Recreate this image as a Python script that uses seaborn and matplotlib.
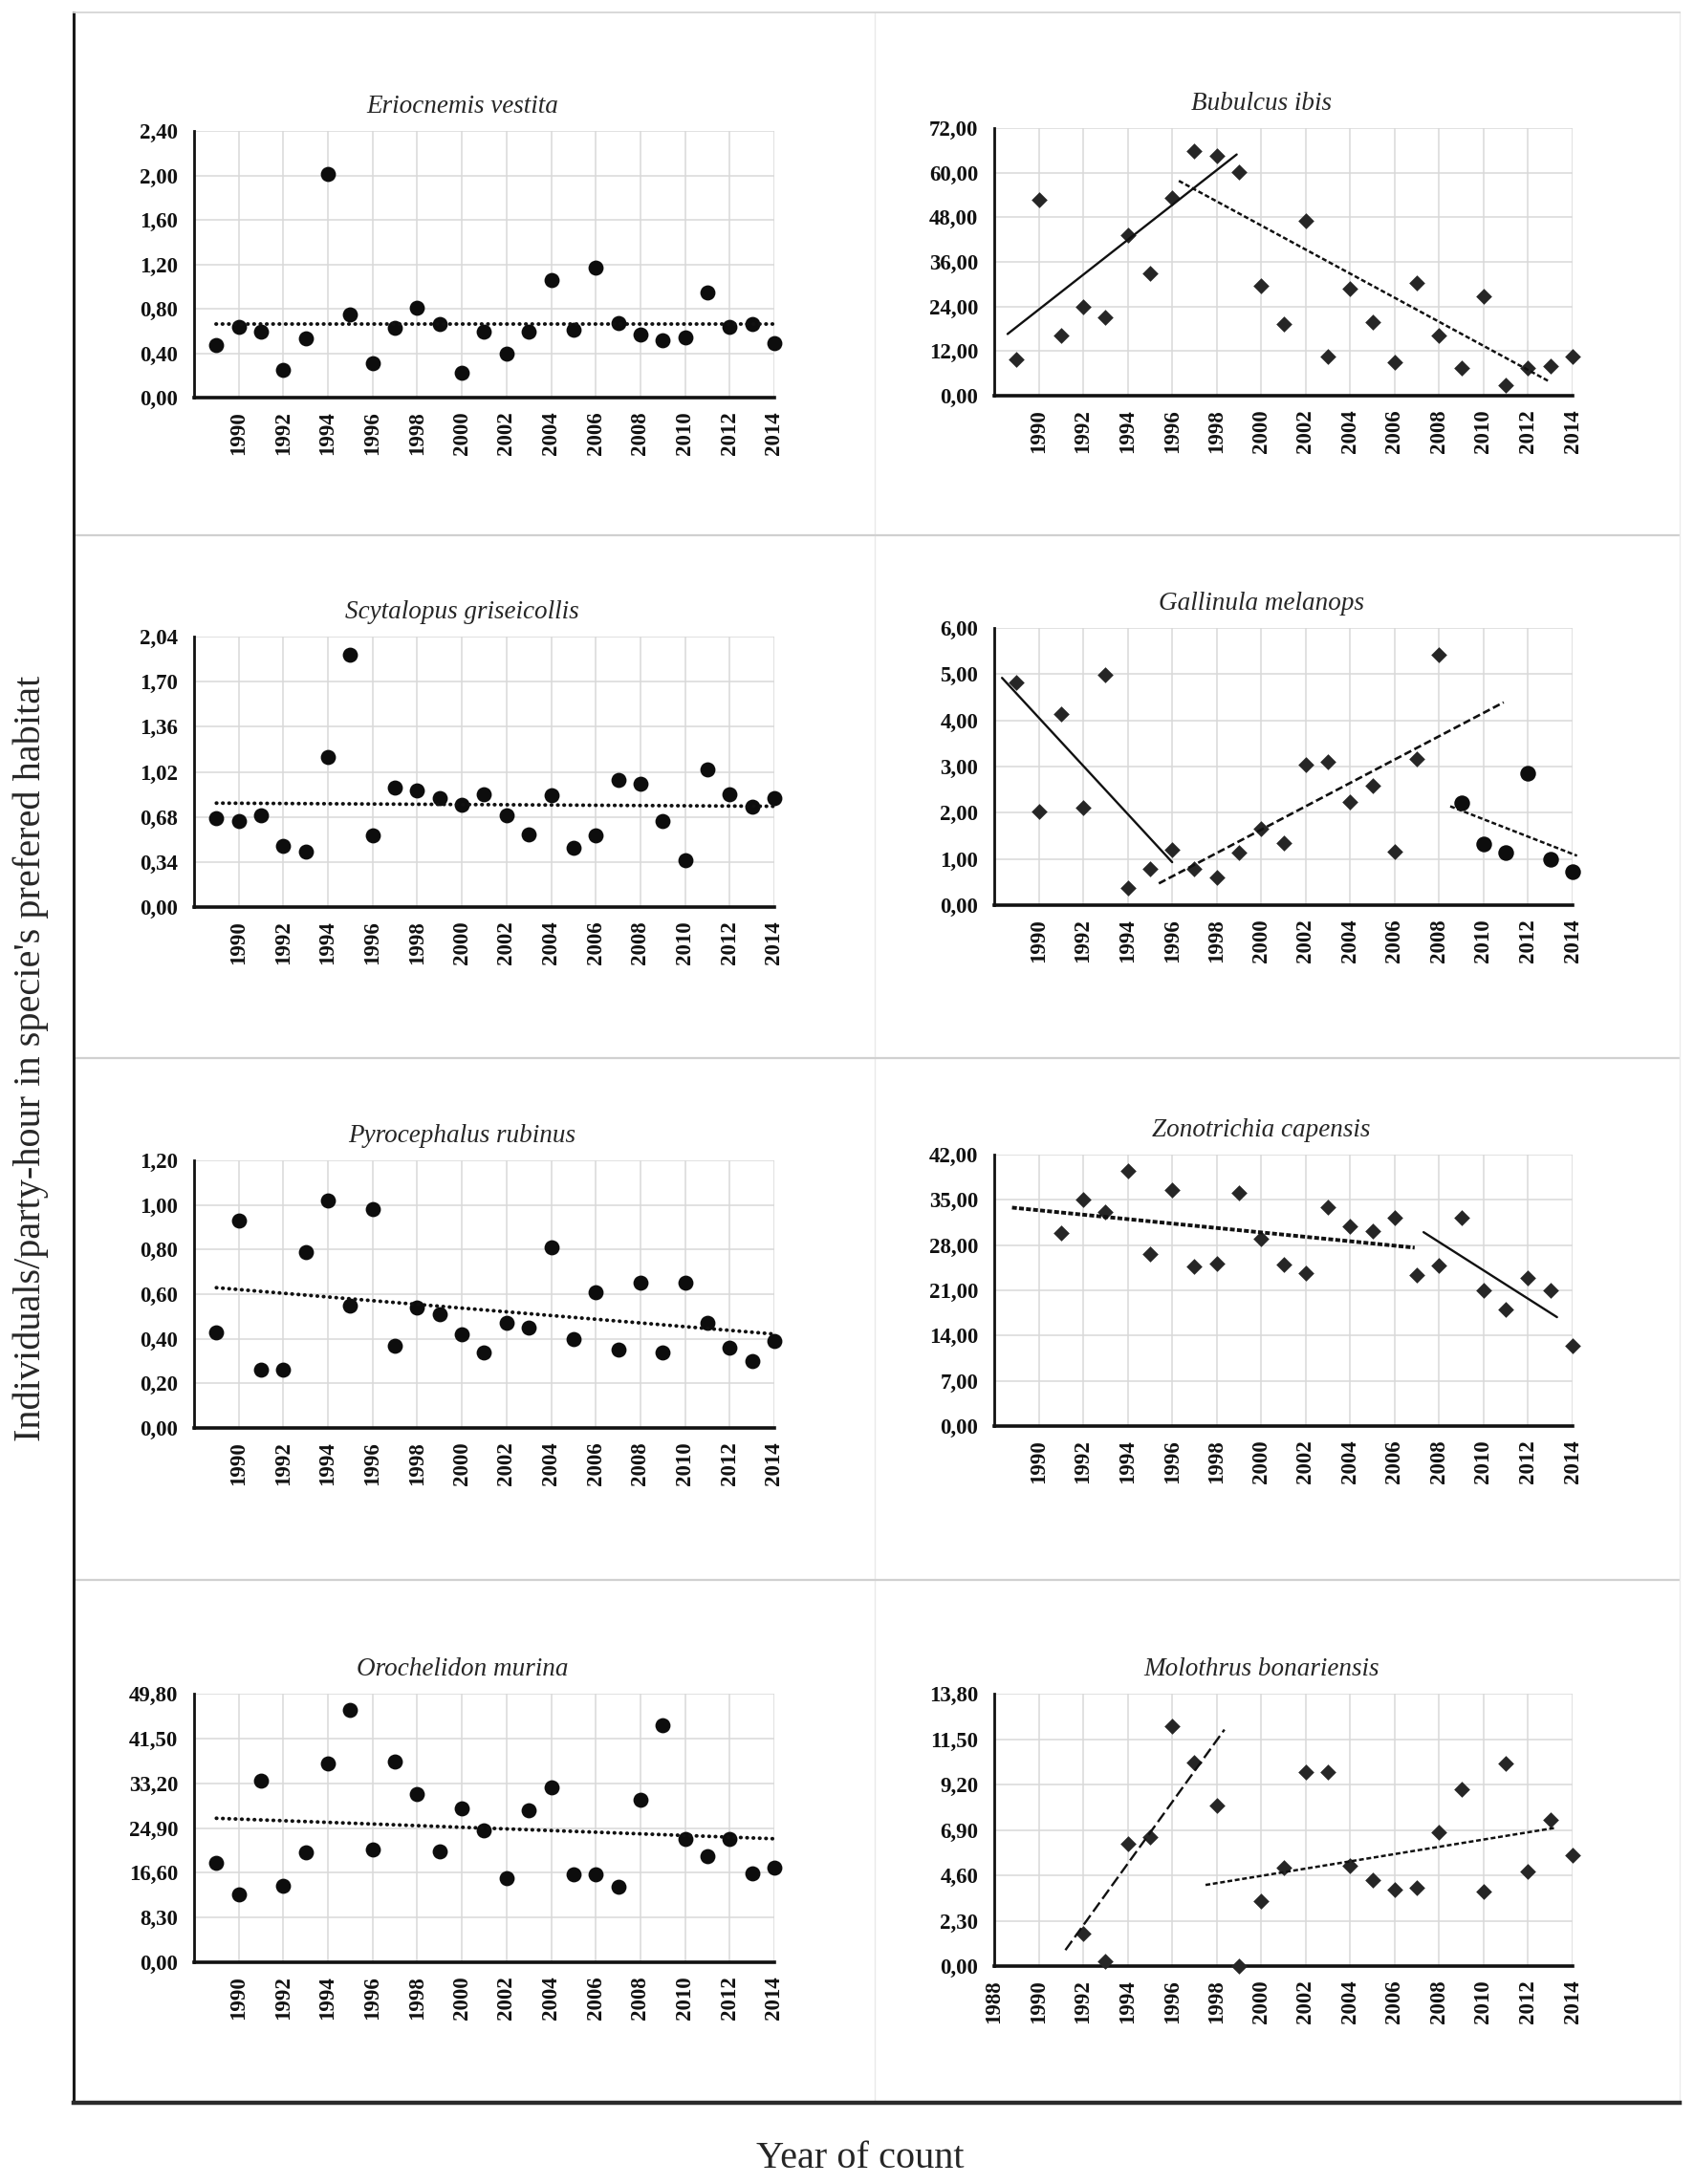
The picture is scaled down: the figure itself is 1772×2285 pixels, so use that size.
import matplotlib
matplotlib.use("Agg")
import matplotlib.pyplot as plt
import pandas as pd
import seaborn as sns
from matplotlib.ticker import FuncFormatter

# ---- data ------------------------------------------------------------------
YEARS_ALL = list(range(1989, 2015))

ERIOCNEMIS_VALUES = [0.47, 0.64, 0.59, 0.25, 0.53, 2.01, 0.75, 0.31, 0.63, 0.81, 0.66, 0.22, 0.59,
                     0.40, 0.59, 1.06, 0.61, 1.17, 0.67, 0.57, 0.52, 0.54, 0.95, 0.64, 0.66, 0.49]
SCYTALOPUS_VALUES = [0.67, 0.65, 0.69, 0.46, 0.42, 1.13, 1.90, 0.54, 0.90, 0.88, 0.82, 0.77, 0.85,
                     0.69, 0.55, 0.84, 0.45, 0.54, 0.96, 0.93, 0.65, 0.35, 1.04, 0.85, 0.76, 0.82]
PYROCEPHALUS_VALUES = [0.43, 0.93, 0.26, 0.26, 0.79, 1.02, 0.55, 0.98, 0.37, 0.54, 0.51, 0.42, 0.34,
                       0.47, 0.45, 0.81, 0.40, 0.61, 0.35, 0.65, 0.34, 0.65, 0.47, 0.36, 0.30, 0.39]
OROCHELIDON_VALUES = [18.5, 12.6, 33.7, 14.1, 20.4, 36.8, 46.8, 21.0, 37.3, 31.2, 20.6, 28.5, 24.4,
                      15.6, 28.1, 32.5, 16.3, 16.3, 14.0, 30.2, 44.0, 22.8, 19.6, 22.9, 16.5, 17.5]
BUBULCUS_VALUES = [9.9, 52.6, 16.2, 24.0, 21.1, 43.3, 33.0, 53.3, 65.8, 64.6, 60.3, 29.6, 19.4,
                   47.1, 10.6, 28.7, 19.7, 9.1, 30.3, 16.2, 7.5, 26.7, 2.8, 7.5, 8.0, 10.5]
GALLINULA_VALUES = [4.83, 2.02, 4.14, 2.11, 4.99, 0.38, 0.78, 1.19, 0.78, 0.61, 1.13, 1.66, 1.35,
                    3.04, 3.11, 2.24, 2.59, 1.16, 3.16, 5.43, 2.21, 1.33, 1.13, 2.85, 1.00, 0.73]
GALLINULA_SHAPE = ["diamond"] * 20 + ["circle"] * 6
ZONOTRICHIA_YEARS = list(range(1991, 2015))
ZONOTRICHIA_VALUES = [29.9, 35.0, 33.1, 39.5, 26.6, 36.6, 24.7, 25.2, 36.1, 29.0, 25.0, 23.6,
                      33.9, 30.9, 30.2, 32.3, 23.4, 24.8, 32.3, 21.0, 18.0, 22.9, 21.0, 12.4]
MOLOTHRUS_YEARS = list(range(1992, 2015))
MOLOTHRUS_VALUES = [1.67, 0.26, 6.18, 6.54, 12.14, 10.29, 8.15, 0.00, 3.28, 4.98, 9.81, 9.81,
                    5.07, 4.36, 3.88, 3.98, 6.76, 8.94, 3.77, 10.26, 4.77, 7.42, 5.60]

# trend segments: (start year, end year, start value, end value)
ERIOCNEMIS_TREND = [(1989, 2014, 0.66, 0.66)]
SCYTALOPUS_TREND = [(1989, 2014, 0.784, 0.76)]
PYROCEPHALUS_TREND = [(1989, 2014, 0.629, 0.421)]
OROCHELIDON_TREND = [(1989, 2014, 26.7, 22.9)]
BUBULCUS_TREND = [(1988.6, 1998.9, 16.6, 64.9), (1996.3, 2012.9, 57.8, 4.0)]
GALLINULA_TREND = [(1988.35, 1996.0, 4.92, 0.93), (1995.4, 2010.9, 0.47, 4.39), (2008.5, 2014.2, 2.14, 1.07)]
ZONOTRICHIA_TREND = [(1988.8, 2006.9, 33.8, 27.6), (2007.3, 2013.3, 30.0, 16.85)]
MOLOTHRUS_TREND = [(1991.2, 1998.35, 0.81, 11.98), (1997.5, 2013.2, 4.11, 7.0)]

ERIOCNEMIS_TICKS = [0, 0.4, 0.8, 1.2, 1.6, 2.0, 2.4]
SCYTALOPUS_TICKS = [0, 0.34, 0.68, 1.02, 1.36, 1.70, 2.04]
PYROCEPHALUS_TICKS = [0, 0.2, 0.4, 0.6, 0.8, 1.0, 1.2]
OROCHELIDON_TICKS = [0, 8.3, 16.6, 24.9, 33.2, 41.5, 49.8]
BUBULCUS_TICKS = [0, 12, 24, 36, 48, 60, 72]
GALLINULA_TICKS = [0, 1, 2, 3, 4, 5, 6]
ZONOTRICHIA_TICKS = [0, 7, 14, 21, 28, 35, 42]
MOLOTHRUS_TICKS = [0, 2.3, 4.6, 6.9, 9.2, 11.5, 13.8]

YEAR_TICKS = list(range(1990, 2015, 2))
YEAR_TICKS_1988 = list(range(1988, 2015, 2))

# ---- styles -----------------------------------------------------------------
W, H = 1772, 2285
GRID = "#d9d9d9"
DOTTED = dict(linestyle=(0, (0.1, 1.6)), lw=2.8, dash_capstyle="round")
SOLID = dict(linestyle="-", lw=1.7)
FINE = dict(linestyle=(0, (2.0, 1.1)), lw=1.8)
MEDIUM = dict(linestyle=(0, (3.0, 1.4)), lw=1.9)
LONG = dict(linestyle=(0, (5, 2)), lw=1.7)
THICK_SQ = dict(linestyle=(0, (1.3, 0.6)), lw=2.8)

sns.set_theme(style="white")
plt.rcParams["font.family"] = ["Liberation Serif", "DejaVu Serif"]
plt.rcParams["font.weight"] = "bold"

fig = plt.figure(figsize=(W / 100, H / 100), dpi=100)

# outer frame with the light separators
FRAME = (77, 13, 1757, 2200)
frame = fig.add_axes([FRAME[0] / W, 1 - FRAME[3] / H, (FRAME[2] - FRAME[0]) / W,
                      (FRAME[3] - FRAME[1]) / H], zorder=-5)
frame.set_xlim(0, 1)
frame.set_ylim(0, 1)
frame.set_xticks([])
frame.set_yticks([])
frame.patch.set_alpha(0)
frame.spines["left"].set(color="#1a1a1a", lw=2.2)
frame.spines["bottom"].set(color="#2b2b2b", lw=3.2)
frame.spines["top"].set(color="#d6d6d6", lw=1.3)
frame.spines["right"].set(color="#ececec", lw=1.0)
frame.axvline(0.4988, color="#eaeaea", lw=1.0)
for yy in (0.25, 0.5, 0.75):
    frame.axhline(yy, color="#d0d0d0", lw=1.6)

fig.text(32 / W, 1 - 1107 / H, "Individuals/party-hour in specie's prefered habitat",
         rotation=90, ha="center", va="center", fontsize=29, fontweight="normal")
fig.text(900 / W, 1 - 2258 / H, "Year of count", ha="center", va="center",
         fontsize=29, fontweight="normal")

comma = FuncFormatter(lambda v, p: f"{v:.2f}".replace(".", ","))


def panel(rect_px, title, years, values, yticks, marker, trends, styles, xticks=YEAR_TICKS, shapes=None):
    x0, x1, top, bottom = rect_px
    ax = fig.add_axes([x0 / W, 1 - bottom / H, (x1 - x0) / W, (bottom - top) / H])
    df = pd.DataFrame({"year": years, "value": values})
    df["shape"] = shapes if shapes is not None else marker
    for shape, sub in df.groupby("shape"):
        if shape == "circle":
            sns.scatterplot(data=sub, x="year", y="value", marker="o", s=140 if shapes else 130,
                            color="#0d0d0d", linewidth=0, ax=ax, zorder=4, clip_on=False)
        else:
            sns.scatterplot(data=sub, x="year", y="value", marker="D", s=72,
                            color="#262626", linewidth=0, ax=ax, zorder=4, clip_on=False)
    for (ya, yb, va, vb), st in zip(trends, styles):
        sns.lineplot(x=[ya, yb], y=[va, vb], color="#111111", ax=ax, zorder=5,
                     clip_on=False, **st)
    ax.set_xlim(1988, 2014)
    ax.set_ylim(yticks[0], yticks[-1])
    ax.set_yticks(yticks)
    ax.set_xticks(xticks)
    ax.yaxis.set_major_formatter(comma)
    ax.grid(True, color=GRID, lw=1.1)
    ax.set_axisbelow(True)
    ax.set_xlabel("")
    ax.set_ylabel("")
    ax.spines["top"].set_visible(False)
    ax.spines["right"].set_visible(False)
    ax.spines["left"].set(color="#111111", lw=2.0)
    ax.spines["bottom"].set(color="#111111", lw=2.6)
    ax.tick_params(axis="x", labelrotation=90, length=0, pad=10, labelsize=16.5, colors="#111111")
    ax.tick_params(axis="y", length=0, pad=12, labelsize=16.5, colors="#111111")
    ax.set_title(title, x=0.462, pad=14, fontsize=19.5, fontstyle="italic", fontweight="normal")
    return ax


L, R = (203, 810), (1040, 1645)

panel((*L, 137, 416), "Eriocnemis vestita", YEARS_ALL, ERIOCNEMIS_VALUES, ERIOCNEMIS_TICKS,
      "circle", ERIOCNEMIS_TREND, [DOTTED])
panel((*R, 134, 414), "Bubulcus ibis", YEARS_ALL, BUBULCUS_VALUES, BUBULCUS_TICKS,
      "diamond", BUBULCUS_TREND, [SOLID, FINE])
panel((*L, 666, 949), "Scytalopus griseicollis", YEARS_ALL, SCYTALOPUS_VALUES, SCYTALOPUS_TICKS,
      "circle", SCYTALOPUS_TREND, [DOTTED])
panel((*R, 657, 947), "Gallinula melanops", YEARS_ALL, GALLINULA_VALUES, GALLINULA_TICKS,
      "diamond", GALLINULA_TREND, [SOLID, MEDIUM, FINE], shapes=GALLINULA_SHAPE)
panel((*L, 1214, 1494), "Pyrocephalus rubinus", YEARS_ALL, PYROCEPHALUS_VALUES, PYROCEPHALUS_TICKS,
      "circle", PYROCEPHALUS_TREND, [DOTTED])
panel((*R, 1208, 1492), "Zonotrichia capensis", ZONOTRICHIA_YEARS, ZONOTRICHIA_VALUES, ZONOTRICHIA_TICKS,
      "diamond", ZONOTRICHIA_TREND, [THICK_SQ, SOLID])
panel((*L, 1772, 2053), "Orochelidon murina", YEARS_ALL, OROCHELIDON_VALUES, OROCHELIDON_TICKS,
      "circle", OROCHELIDON_TREND, [DOTTED])
panel((*R, 1772, 2057), "Molothrus bonariensis", MOLOTHRUS_YEARS, MOLOTHRUS_VALUES, MOLOTHRUS_TICKS,
      "diamond", MOLOTHRUS_TREND, [LONG, FINE], xticks=YEAR_TICKS_1988)

fig.savefig("out.png", dpi=100)
